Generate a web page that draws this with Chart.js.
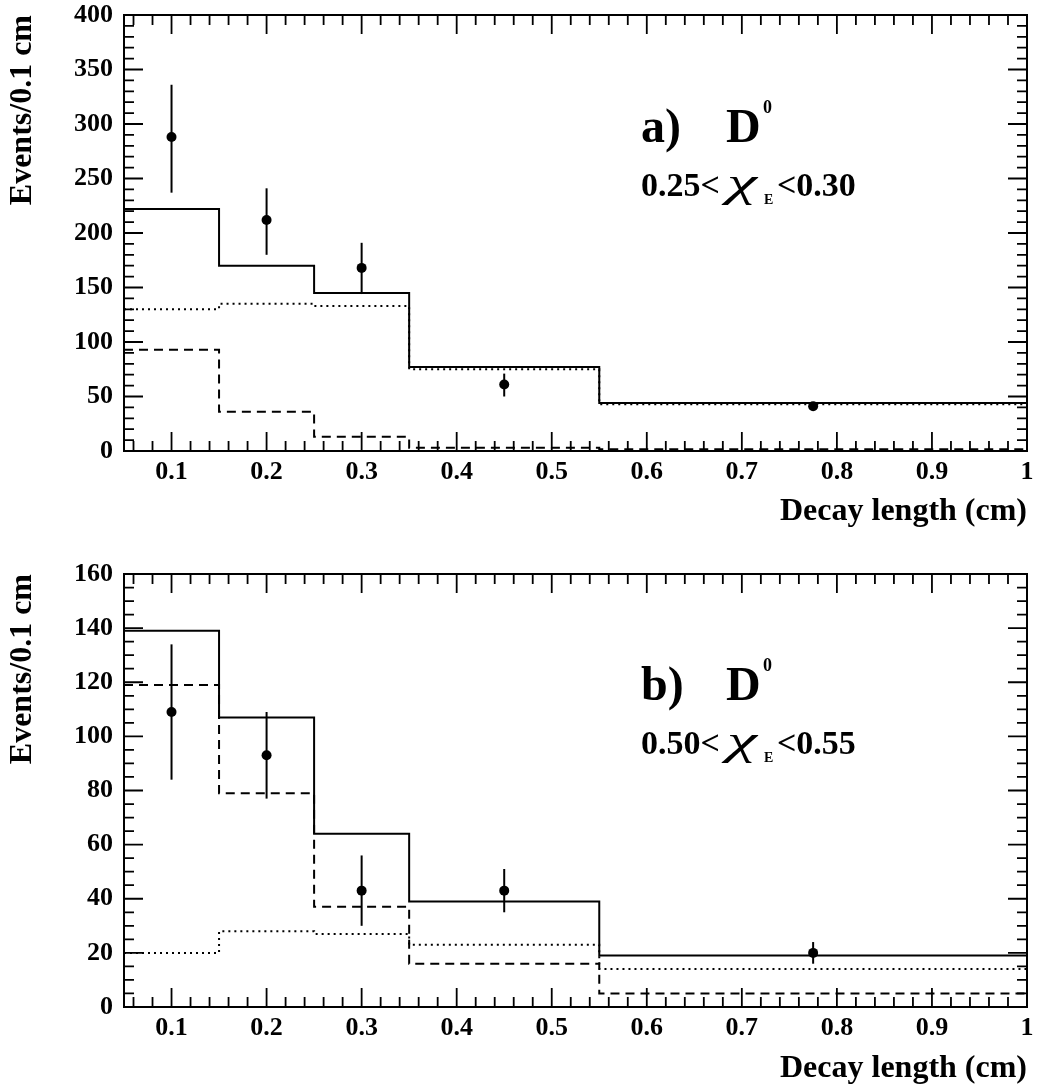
<!DOCTYPE html>
<html>
<head>
<meta charset="utf-8">
<script src="https://cdn.jsdelivr.net/npm/chart.js@4.4.1/dist/chart.umd.min.js"></script>
<style>
  body { margin: 0; background: #fff; }
  #wrap { position: relative; width: 1037px; height: 1085px; font-family: "Liberation Serif", "Times New Roman", serif; font-weight: bold; color: #000; }
  .cv { position: absolute; left: 0; }
  .lbl { position: absolute; white-space: nowrap; line-height: 1; }
  .big { font-size: 48px; }
  .sup { font-size: 18px; }
  .rng { font-size: 34px; }
  .rng i { display: inline-block; width: 44px; text-align: center; font-weight: normal; font-size: 40px; transform: scaleX(1.7); }
  .rng .sub { display: inline-block; font-size: 14px; position: relative; top: 8px; width: 13px; }
</style>
</head>
<body>
<div id="wrap">
  <canvas id="chartA" class="cv" width="1037" height="545" style="top:0"></canvas>
  <canvas id="chartB" class="cv" width="1037" height="540" style="top:545px"></canvas>

  <span class="lbl big" style="left:641px;top:102px">a)</span>
  <span class="lbl big" style="left:726px;top:102px">D</span>
  <span class="lbl sup" style="left:763px;top:98px">0</span>
  <span class="lbl rng" style="left:641px;top:163px">0.25&lt;<i>χ</i><span class="sub">E</span>&lt;0.30</span>

  <span class="lbl big" style="left:641px;top:660px">b)</span>
  <span class="lbl big" style="left:726px;top:660px">D</span>
  <span class="lbl sup" style="left:763px;top:656px">0</span>
  <span class="lbl rng" style="left:641px;top:721px">0.50&lt;<i>χ</i><span class="sub">E</span>&lt;0.55</span>
</div>
<script>
// bin edges (cm) and tick labels
const binEdges = [0.05, 0.15, 0.25, 0.35, 0.55, 1.0];
const xTicks = [0.1, 0.2, 0.3, 0.4, 0.5, 0.6, 0.7, 0.8, 0.9, 1.0];
const pointX = [0.1, 0.2, 0.3, 0.45, 0.775];

// a) 0.25 < xE < 0.30
const totalA = [222, 170, 145, 77, 44];
const dottedA = [130, 135, 133, 75, 43];
const dashedA = [93, 36, 13, 3, 1.5];
const dataA = [288, 212, 168, 61, 41];
const errLoA = [237, 180, 144, 50, 37];
const errHiA = [336, 241, 191, 71, 44];

// b) 0.50 < xE < 0.55
const totalB = [139, 107, 64, 39, 19];
const dashedB = [119, 79, 37, 16, 5];
const dottedB = [20, 28, 27, 23, 14];
const dataB = [109, 93, 43, 43, 20];
const errLoB = [84, 77, 30, 35, 16];
const errHiB = [134, 109, 56, 51, 24];

const FONT = "'Liberation Serif', 'Times New Roman', serif";

function steps(vals) {
  const pts = vals.map((v, i) => ({ x: binEdges[i], y: v }));
  pts.push({ x: binEdges[binEdges.length - 1], y: vals[vals.length - 1] });
  return pts;
}

// frame, inward ticks on all four sides, error bars
const rootStyle = {
  id: "rootStyle",
  afterDatasetsDraw(chart, args, opts) {
    const { ctx, scales: { x, y } } = chart;
    ctx.save();
    ctx.strokeStyle = "#000";
    ctx.lineWidth = 2;
    opts.lo.forEach((lo, i) => {
      const px = x.getPixelForValue(pointX[i]);
      ctx.beginPath();
      ctx.moveTo(px, y.getPixelForValue(lo));
      ctx.lineTo(px, y.getPixelForValue(opts.hi[i]));
      ctx.stroke();
    });
    ctx.restore();
  },
  afterDraw(chart, args, opts) {
    const { ctx, chartArea: a, scales: { x, y } } = chart;
    ctx.save();
    ctx.strokeStyle = "#000";
    ctx.lineWidth = 2;
    ctx.strokeRect(a.left, a.top, a.right - a.left, a.bottom - a.top);
    ctx.lineWidth = 1.8;
    ctx.beginPath();
    // x ticks: minor every 0.02
    for (let k = 3; k <= 50; k++) {
      const px = x.getPixelForValue(k * 0.02);
      const len = k % 5 === 0 ? 19 : 10;
      ctx.moveTo(px, a.bottom); ctx.lineTo(px, a.bottom - len);
      ctx.moveTo(px, a.top); ctx.lineTo(px, a.top + len);
    }
    // y ticks
    for (let v = 0; v <= opts.ymax + 1e-9; v += opts.minor) {
      const py = y.getPixelForValue(v);
      const len = Math.abs(v / opts.major - Math.round(v / opts.major)) < 1e-6 ? 19 : 10;
      ctx.moveTo(a.left, py); ctx.lineTo(a.left + len, py);
      ctx.moveTo(a.right, py); ctx.lineTo(a.right - len, py);
    }
    ctx.stroke();
    ctx.restore();
  }
};

function makeChart(id, total, dotted, dashed, pts, lo, hi, ymax, major, minor, padTop, xHeight, titlePad) {
  return new Chart(document.getElementById(id), {
    type: "line",
    data: {
      datasets: [
        { data: pts.map((v, i) => ({ x: pointX[i], y: v })), showLine: false, pointRadius: 5, pointBackgroundColor: "#000", pointBorderWidth: 0 },
        { data: steps(total), stepped: "before", borderColor: "#000", borderWidth: 2, pointRadius: 0 },
        { data: steps(dotted), stepped: "before", borderColor: "#000", borderWidth: 2, borderDash: [2, 4], pointRadius: 0 },
        { data: steps(dashed), stepped: "before", borderColor: "#000", borderWidth: 2, borderDash: [9, 6], pointRadius: 0 }
      ]
    },
    options: {
      responsive: false,
      animation: false,
      layout: { padding: { top: padTop, right: 10, left: 0, bottom: 0 } },
      plugins: {
        legend: { display: false },
        tooltip: { enabled: false },
        rootStyle: { lo, hi, ymax, major, minor }
      },
      scales: {
        x: {
          type: "linear",
          min: 0.05,
          max: 1.0,
          grid: { display: false, drawTicks: false },
          border: { display: false },
          afterBuildTicks: (s) => { s.ticks = xTicks.map((v) => ({ value: v })); },
          afterFit: (s) => { s.height = xHeight; s.paddingLeft = 0; s.paddingRight = 0; },
          ticks: { color: "#000", padding: 6, maxRotation: 0, font: { family: FONT, size: 26, weight: "bold" }, callback: (v) => String(v) },
          title: { display: true, text: "Decay length (cm)", align: "end", color: "#000", padding: { top: 0, bottom: titlePad }, font: { family: FONT, size: 32, weight: "bold", lineHeight: 1 } }
        },
        y: {
          min: 0,
          max: ymax,
          grid: { display: false, drawTicks: false },
          border: { display: false },
          afterFit: (s) => { s.width = 124; s.paddingTop = 0; s.paddingBottom = 0; },
          ticks: { stepSize: major, color: "#000", padding: 11, font: { family: FONT, size: 26, weight: "bold" } },
          title: { display: true, text: "Events/0.1 cm", align: "end", color: "#000", padding: { top: 7, bottom: 0 }, font: { family: FONT, size: 32, weight: "bold", lineHeight: 1 } }
        }
      }
    },
    plugins: [rootStyle]
  });
}

makeChart("chartA", totalA, dottedA, dashedA, dataA, errLoA, errHiA, 400, 50, 10, 15, 94, 17);
makeChart("chartB", totalB, dottedB, dashedB, dataB, errLoB, errHiB, 160, 20, 5, 29, 78, 0);
</script>
</body>
</html>
